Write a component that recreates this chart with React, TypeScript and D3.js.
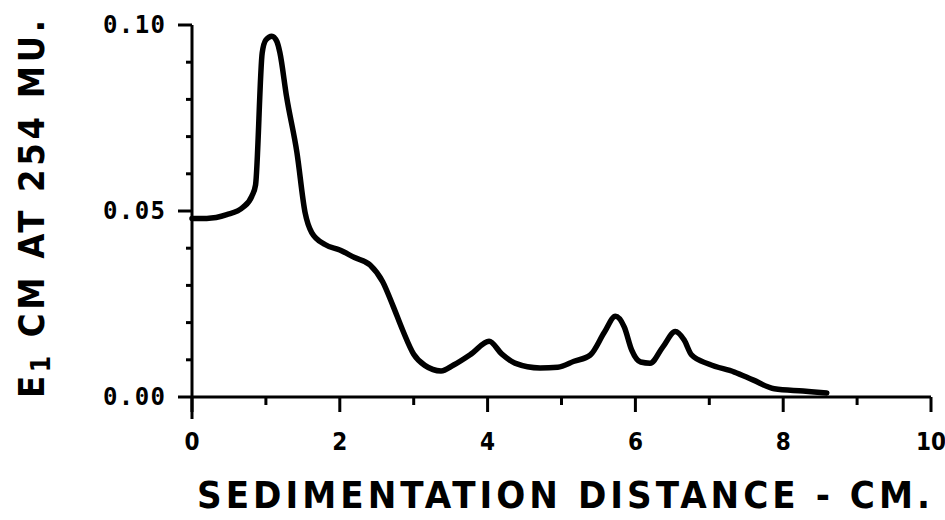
import React from "react";
import * as d3 from "d3";

// Absorbance trace along the sedimentation path
const distanceCm = [0, 0.2, 0.47, 0.69, 0.81, 0.86, 0.95, 1.0, 1.08, 1.15, 1.19, 1.28, 1.42, 1.53, 1.62, 1.8, 2.0, 2.2, 2.41, 2.58, 2.72, 2.85, 3.0, 3.15, 3.37, 3.54, 3.78, 4.02, 4.19, 4.37, 4.71, 4.95, 5.17, 5.39, 5.58, 5.73, 5.85, 5.95, 6.07, 6.2, 6.37, 6.54, 6.66, 6.76, 7.0, 7.34, 7.59, 7.88, 8.27, 8.59];
const absorbance = [0.048, 0.048, 0.049, 0.051, 0.054, 0.057, 0.0925, 0.096, 0.097, 0.0955, 0.0925, 0.0807, 0.0657, 0.0496, 0.0442, 0.041, 0.0395, 0.0375, 0.0355, 0.031, 0.0245, 0.018, 0.0115, 0.0085, 0.007, 0.0086, 0.0116, 0.015, 0.0116, 0.0091, 0.0078, 0.008, 0.0096, 0.0113, 0.0174, 0.0217, 0.0188, 0.0126, 0.0094, 0.0091, 0.0134, 0.0176, 0.0153, 0.0113, 0.0088, 0.0067, 0.0046, 0.0022, 0.0016, 0.0011];

const xTickValues = [0, 2, 4, 6, 8, 10];
const xTickLabels = ["0", "2", "4", "6", "8", "10"];
const xMinorTicks = [1, 3, 5, 7, 9];
const yTickValues = [0, 0.05, 0.1];
const yTickLabels = ["0.00", "0.05", "0.10"];
const yMinorTicks = [0.01, 0.02, 0.03, 0.04, 0.06, 0.07, 0.08, 0.09];

const W = 945;
const H = 520;

export default function App() {
  const x = d3.scaleLinear().domain([0, 10]).range([192, 931]);
  const y = d3.scaleLinear().domain([0, 0.1]).range([397, 25]);

  const pts: [number, number][] = distanceCm.map((d, i) => [d, absorbance[i]]);
  const line = d3
    .line<[number, number]>()
    .x((d) => x(d[0]))
    .y((d) => y(d[1]))
    .curve(d3.curveMonotoneX);

  const font = "'DejaVu Sans Condensed', 'DejaVu Sans', sans-serif";
  const mono = "'DejaVu Sans Mono', monospace";

  return (
    <svg
      width={W}
      height={H}
      viewBox={`0 0 ${W} ${H}`}
      style={{ position: "absolute", left: 0, top: 0, background: "#fff" }}
    >
      {/* axes */}
      <line x1={x(0)} x2={x(0)} y1={y(0.1)} y2={y(0) + 22} stroke="#000" strokeWidth={3} />
      <line x1={x(0)} x2={x(10)} y1={y(0)} y2={y(0)} stroke="#000" strokeWidth={3} />

      {/* y ticks */}
      {yTickValues.map((v, i) => (
        <g key={`yt${i}`}>
          <line x1={x(0) - 14} x2={x(0)} y1={y(v)} y2={y(v)} stroke="#000" strokeWidth={3} />
          <text
            x={165}
            y={y(v)}
            dy="0.35em"
            textAnchor="end"
            fontFamily={mono}
            fontSize={24}
            fontWeight="bold"
            fill="#000"
            textLength={62}
            lengthAdjust="spacing"
          >
            {yTickLabels[i]}
          </text>
        </g>
      ))}
      {yMinorTicks.map((v, i) => (
        <line key={`ym${i}`} x1={x(0) - 6} x2={x(0)} y1={y(v)} y2={y(v)} stroke="#000" strokeWidth={3} />
      ))}

      {/* x ticks */}
      {xTickValues.map((v, i) => (
        <g key={`xt${i}`}>
          <line x1={x(v)} x2={x(v)} y1={y(0)} y2={y(0) + 15} stroke="#000" strokeWidth={3} />
          <text
            x={x(v)}
            y={450}
            textAnchor="middle"
            fontFamily={font}
            fontSize={24}
            fontWeight="bold"
            fill="#000"
          >
            {xTickLabels[i]}
          </text>
        </g>
      ))}
      {xMinorTicks.map((v, i) => (
        <line key={`xm${i}`} x1={x(v)} x2={x(v)} y1={y(0)} y2={y(0) + 8} stroke="#000" strokeWidth={3} />
      ))}

      {/* trace */}
      <path d={line(pts) ?? ""} fill="none" stroke="#000" strokeWidth={5.5} strokeLinejoin="round" strokeLinecap="round" />

      {/* axis titles */}
      <text
        x={197}
        y={508}
        fontFamily={font}
        fontSize={38}
        fontWeight="bold"
        fill="#000"
        textLength={733}
        lengthAdjust="spacing"
      >
        SEDIMENTATION  DISTANCE - CM.
      </text>
      <text
        transform="translate(44,398) rotate(-90)"
        fontFamily={font}
        fontSize={36}
        fontWeight="bold"
        fill="#000"
        textLength={378}
        lengthAdjust="spacing"
      >
        E<tspan fontSize={26} dy={6}>1</tspan>
        <tspan dy={-6}> CM AT 254 MU.</tspan>
      </text>
    </svg>
  );
}
